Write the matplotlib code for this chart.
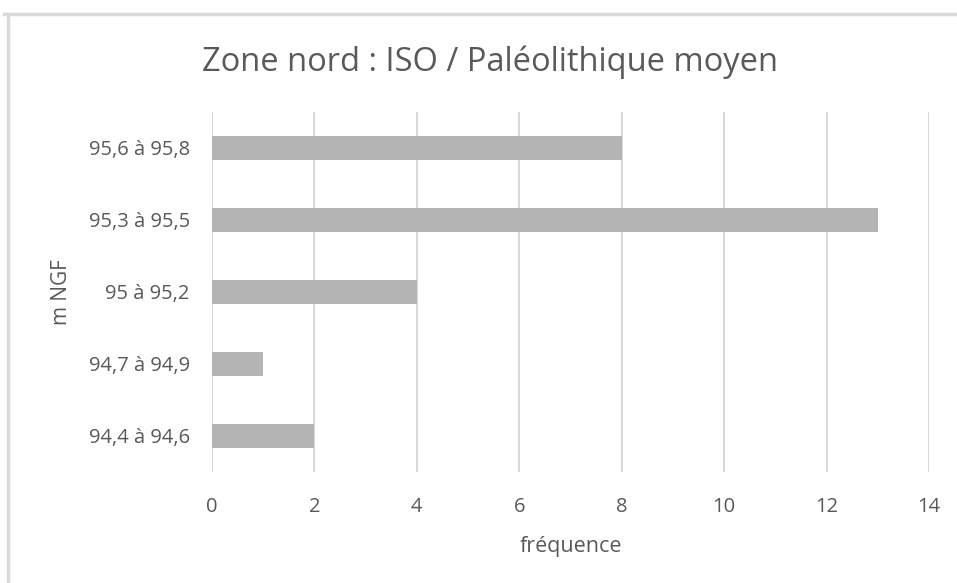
import matplotlib.pyplot as plt
from matplotlib.lines import Line2D

# classes d'altitude (m NGF) et fréquences
categories = ["94,4 à 94,6", "94,7 à 94,9", "95 à 95,2", "95,3 à 95,5", "95,6 à 95,8"]
frequences = [2, 1, 4, 13, 8]
xticks = [0, 2, 4, 6, 8, 10, 12, 14]

txt = "#595959"
plt.rcParams['font.family'] = ['Open Sans', 'DejaVu Sans']

fig = plt.figure(figsize=(9.57, 5.83), dpi=100)
ax = fig.add_axes([0.2215, 0.1904, 0.7492, 0.6175])

ax.barh(range(len(categories)), frequences, height=0.333, color="#b4b4b4", zorder=3)

ax.set_xlim(0, 14)
ax.set_ylim(-0.5, len(categories) - 0.5)
ax.set_xticks(xticks)
ax.set_yticks(range(len(categories)))
ax.set_yticklabels(categories)
ax.xaxis.grid(True, color="#d9d9d9", linewidth=1.5, zorder=0)
ax.tick_params(axis="both", length=0, labelsize=14.5, colors=txt)
ax.tick_params(axis="x", pad=18)
ax.tick_params(axis="y", pad=16)
for s in ax.spines.values():
    s.set_visible(False)

ax.set_xlabel("fréquence", fontsize=15.5, color=txt, labelpad=14)
ax.set_ylabel("m NGF", fontsize=15, color=txt, labelpad=12)
fig.text(0.512, 0.894, "Zone nord : ISO / Paléolithique moyen", ha="center",
         va="center", fontsize=23.5, color=txt)

# cadre du graphique (haut et gauche visibles)
fig.add_artist(Line2D([4/957, 1], [1 - 14/583] * 2, color="#d9d9d9", lw=2.5))
fig.add_artist(Line2D([8/957] * 2, [1 - 14/583, 0], color="#d9d9d9", lw=2.5))

fig.savefig("out.png", dpi=100)
